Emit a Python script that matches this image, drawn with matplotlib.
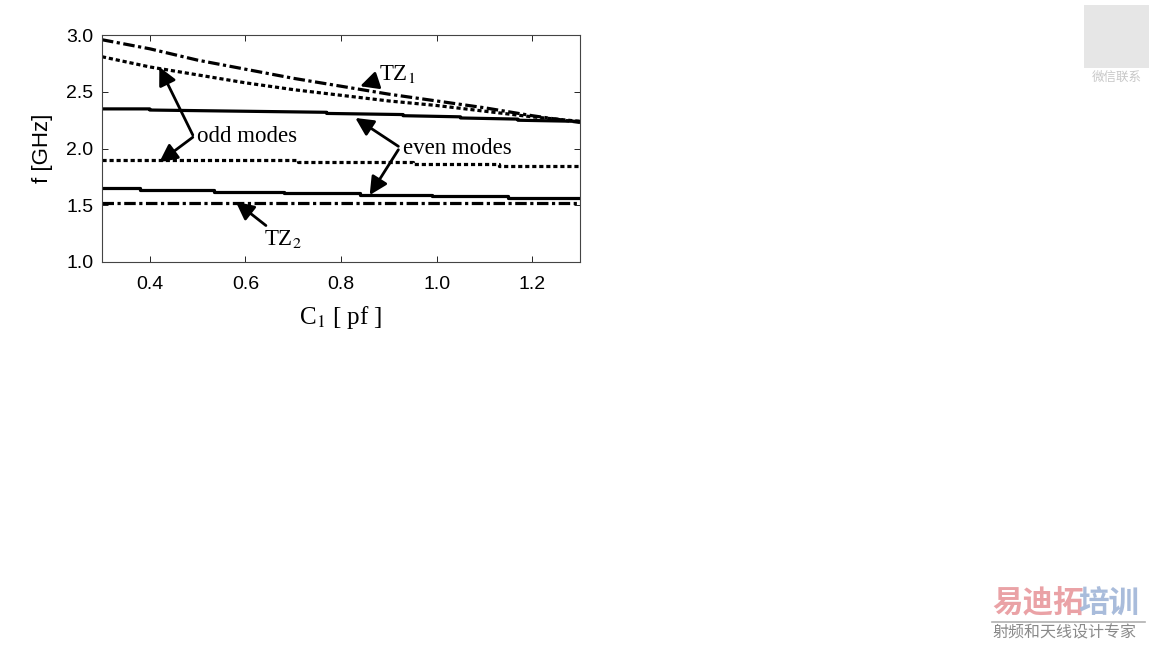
import numpy as np
import matplotlib.pyplot as plt

plt.rcParams['mathtext.fontset'] = 'stix'

# capacitance C1 [pF]
c1 = [0.3, 0.4, 0.5, 0.6, 0.7, 0.8, 0.9, 1.0, 1.1, 1.2, 1.3]

# transmission zero TZ1 and upper odd mode
tz1 = [2.96, 2.88, 2.78, 2.70, 2.62, 2.55, 2.48, 2.42, 2.36, 2.29, 2.23]
odd_hi = [2.81, 2.72, 2.65, 2.58, 2.52, 2.47, 2.42, 2.38, 2.33, 2.28, 2.24]

# stepped curves (x, f)
even_hi_x = [0.3, 0.40, 0.40, 0.77, 0.77, 0.93, 0.93, 1.05, 1.05, 1.17, 1.17, 1.3]
even_hi_f = [2.35, 2.35, 2.34, 2.32, 2.31, 2.30, 2.29, 2.28, 2.27, 2.26, 2.25, 2.24]

odd_lo_x = [0.3, 0.71, 0.71, 0.95, 0.95, 1.13, 1.13, 1.3]
odd_lo_f = [1.90, 1.90, 1.88, 1.88, 1.865, 1.865, 1.85, 1.85]

even_lo_x = [0.3, 0.38, 0.38, 0.535, 0.535, 0.68, 0.68, 0.84, 0.84, 0.99, 0.99, 1.15, 1.15, 1.3]
even_lo_f = [1.65, 1.65, 1.635, 1.635, 1.62, 1.62, 1.61, 1.61, 1.595, 1.595, 1.58, 1.58, 1.565, 1.565]

tz2_x = [0.3, 1.3]
tz2 = [1.52, 1.52]

fig = plt.figure(figsize=(11.52, 6.48), dpi=100)
ax = fig.add_axes([0.0885, 0.5957, 0.415, 0.35])

lw = 2.3
dashdot = (3.6, 1.1, 1.0, 1.1)
dotted = (1.3, 0.9)

ax.plot(c1, tz1, color='black', lw=lw, dashes=dashdot)
ax.plot(c1, odd_hi, color='black', lw=lw, dashes=dotted)
ax.plot(even_hi_x, even_hi_f, color='black', lw=lw)
ax.plot(odd_lo_x, odd_lo_f, color='black', lw=lw, dashes=dotted)
ax.plot(even_lo_x, even_lo_f, color='black', lw=lw)
ax.plot(tz2_x, tz2, color='black', lw=lw, dashes=dashdot)

ax.set_xlim(0.3, 1.3)
ax.set_ylim(1.0, 3.0)
ax.set_xticks([0.4, 0.6, 0.8, 1.0, 1.2])
ax.set_yticks([1.0, 1.5, 2.0, 2.5, 3.0])
ax.set_xticklabels(['0.4', '0.6', '0.8', '1.0', '1.2'])
ax.set_yticklabels(['1.0', '1.5', '2.0', '2.5', '3.0'])
ax.tick_params(direction='in', length=4, width=0.6, labelsize=14, top=True, right=True)
ax.tick_params(axis='x', pad=10)
ax.tick_params(axis='y', pad=6)
for lab in ax.get_xticklabels() + ax.get_yticklabels():
    lab.set_family('Liberation Sans')
for s in ax.spines.values():
    s.set_linewidth(0.8)
    s.set_color('#444444')

ax.set_xlabel('C$_1$ [ pf ]', family='Liberation Serif', fontsize=18, labelpad=8)
ax.set_ylabel('f [GHz]', family='Liberation Sans', fontsize=16, labelpad=10)

serif = dict(family='Liberation Serif', fontsize=16.5)
arrow = dict(arrowstyle='-|>', color='black', lw=2, mutation_scale=27, shrinkA=0, shrinkB=0)

# TZ1
ax.annotate('TZ$_1$', xy=(0.84, 2.55), xytext=(0.88, 2.66), textcoords='data',
            va='center', ha='left', arrowprops=arrow, **serif)
# odd modes
ax.text(0.498, 2.11, 'odd modes', va='center', ha='left', **serif)
ax.annotate('', xy=(0.42, 2.72), xytext=(0.49, 2.12), arrowprops=arrow)
ax.annotate('', xy=(0.42, 1.88), xytext=(0.49, 2.10), arrowprops=arrow)
# even modes
ax.text(0.93, 2.0, 'even modes', va='center', ha='left', **serif)
ax.annotate('', xy=(0.83, 2.27), xytext=(0.92, 2.02), arrowprops=arrow)
ax.annotate('', xy=(0.86, 1.59), xytext=(0.92, 1.99), arrowprops=arrow)
# TZ2
ax.annotate('TZ$_2$', xy=(0.58, 1.53), xytext=(0.64, 1.2), textcoords='data',
            va='center', ha='left', arrowprops=arrow, **serif)

# watermark / contact marks
cjk = ['Noto Sans CJK SC', 'DejaVu Sans']
fig.patches.append(plt.Rectangle((0.941, 0.895), 0.056, 0.098, transform=fig.transFigure,
                                 facecolor='#e6e6e6', edgecolor='none'))
fig.text(0.969, 0.88, '微信联系', family=cjk, fontsize=9, color='#c8c8c8',
         ha='center', va='center')
fig.text(0.861, 0.068, '易迪拓', family=cjk, fontsize=22, color='#eaa2a6',
         ha='left', va='center', weight='bold')
fig.text(0.936, 0.068, '培训', family=cjk, fontsize=22, color='#a9bcdb',
         ha='left', va='center', weight='bold')
fig.lines.append(plt.Line2D([0.861, 0.994], [0.040, 0.040], transform=fig.transFigure,
                            color='#b0b0b0', lw=1.2))
fig.text(0.8615, 0.023, '射频和天线设计专家', family=cjk, fontsize=11.5, color='#8a8a8a',
         ha='left', va='center')

fig.savefig('out.png', dpi=100)
